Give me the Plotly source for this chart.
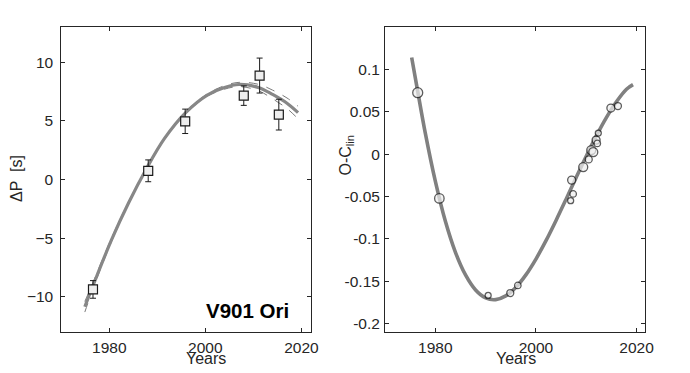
import plotly.graph_objects as go

# ---------------- Left panel: period change ----------------
dp_years = [1976.6, 1988.1, 1995.8, 2008.0, 2011.3, 2015.3]
dp_values = [-9.37, 0.74, 4.96, 7.15, 8.86, 5.53]
dp_errors = [0.75, 0.93, 1.04, 0.83, 1.49, 1.31]

dp_fit_years = [1974.9, 1976.6, 1980.5, 1984.0, 1987.7, 1991.5, 1995.9, 2000.4,
                2004.0, 2007.0, 2011.0, 2014.0, 2017.0, 2019.3]
dp_fit_values = [-10.85, -9.05, -5.1, -2.0, 0.9, 3.5, 5.7, 7.2,
                 7.85, 8.1, 7.85, 7.25, 6.5, 5.7]
dp_fit_upper = [-10.4, -8.78, -4.95, -1.9, 0.95, 3.55, 5.78, 7.3,
                8.0, 8.28, 8.12, 7.62, 6.95, 6.25]
dp_fit_lower = [-11.3, -9.32, -5.25, -2.1, 0.85, 3.45, 5.62, 7.1,
                7.7, 7.92, 7.58, 6.88, 6.05, 5.18]

# ---------------- Right panel: O-C residuals ----------------
oc_years = [1976.5, 1980.8, 1990.5, 1994.9, 1996.4, 2007.1, 2006.9, 2007.4,
            2009.4, 2010.5, 2011.0, 2011.4, 2011.96, 2012.2, 2012.4, 2014.9, 2016.3]
oc_values = [0.0725, -0.0523, -0.1668, -0.164, -0.155, -0.0307, -0.055, -0.047,
             -0.0153, -0.0063, 0.0047, 0.0024, 0.0165, 0.0126, 0.0248, 0.0543, 0.0567]
oc_sizes = [10, 9.5, 6, 7, 6.5, 8, 6, 6.5, 9, 7, 9, 9, 8, 6.5, 6, 8, 7]

oc_fit_years = [1975.3, 1976.5, 1978, 1980, 1982, 1984, 1986, 1988, 1990, 1992,
                1994, 1996, 1998, 2000, 2002, 2004, 2006, 2008, 2010, 2012,
                2014, 2016, 2018, 2019.3]
oc_fit_values = [0.114, 0.074, 0.025, -0.032, -0.0794, -0.116, -0.1427, -0.1604,
                 -0.1698, -0.1718, -0.1674, -0.1574, -0.1426, -0.1239, -0.1022,
                 -0.0783, -0.0532, -0.0276, -0.0025, 0.0214, 0.0431, 0.0618,
                 0.0766, 0.082]

x_ticks = [1980, 2000, 2020]
dp_ticks = [-10, -5, 0, 5, 10]
oc_ticks = [-0.2, -0.15, -0.1, -0.05, 0, 0.05, 0.1]
oc_tick_text = ["-0.2", "-0.15", "-0.1", "-0.05", "0", "0.05", "0.1"]

INK = "#262626"
FONT = "Liberation Sans, Arial, sans-serif"
OFF = 8  # page body margin compensation (px)
W = 690.0

fig = go.Figure()

for vals in (dp_fit_upper, dp_fit_lower):
    fig.add_trace(go.Scatter(x=dp_fit_years, y=vals, mode="lines",
                             line=dict(color="#7a7a7a", width=1, dash="dash", shape="spline"),
                             xaxis="x", yaxis="y", showlegend=False, hoverinfo="skip"))
fig.add_trace(go.Scatter(x=dp_fit_years, y=dp_fit_values, mode="lines",
                         line=dict(color="#878787", width=3.2, shape="spline"),
                         xaxis="x", yaxis="y", showlegend=False))
fig.add_trace(go.Scatter(x=dp_years, y=dp_values, mode="markers",
                         marker=dict(symbol="square", size=9, color="#eeeeee",
                                     line=dict(color="#1a1a1a", width=1.2)),
                         error_y=dict(type="data", array=dp_errors, visible=True,
                                      color="#1a1a1a", thickness=1, width=3),
                         xaxis="x", yaxis="y", showlegend=False))

fig.add_trace(go.Scatter(x=oc_fit_years, y=oc_fit_values, mode="lines",
                         line=dict(color="#808080", width=3.6, shape="spline"),
                         xaxis="x2", yaxis="y2", showlegend=False))
fig.add_trace(go.Scatter(x=oc_years, y=oc_values, mode="markers",
                         marker=dict(symbol="circle", size=oc_sizes, color="#eeeeee",
                                     line=dict(color="#1a1a1a", width=1.3)),
                         xaxis="x2", yaxis="y2", showlegend=False))

axis_common = dict(showline=True, linecolor=INK, linewidth=1, mirror="allticks",
                   ticks="inside", ticklen=4, tickcolor=INK, showgrid=False,
                   zeroline=False, tickfont=dict(family=FONT, size=15.5, color=INK))

fig.update_layout(
    width=690, height=373,
    margin=dict(l=0, r=0, t=27 - OFF, b=41 + OFF),
    paper_bgcolor="white", plot_bgcolor="white",
    font=dict(family=FONT, color=INK),
    xaxis=dict(domain=[(62 - OFF) / W, (315 - OFF) / W], range=[1970, 2022], tickvals=x_ticks,
               anchor="y", ticklabelstandoff=1, **axis_common),
    yaxis=dict(domain=[0, 1], range=[-13, 13], tickvals=dp_ticks, anchor="x",
               ticklabelstandoff=4, **axis_common),
    xaxis2=dict(domain=[(390 - OFF) / W, (653 - OFF) / W], range=[1970, 2021.6], tickvals=x_ticks,
                anchor="y2", ticklabelstandoff=1, **axis_common),
    yaxis2=dict(domain=[0, 1], range=[-0.21, 0.15], tickvals=oc_ticks,
                ticktext=oc_tick_text, anchor="x2", ticklabelstandoff=1, **axis_common),
    annotations=[
        dict(text="Years", xref="paper", yref="paper", x=(209 - OFF) / W, y=-26 / 305,
             xanchor="center", yanchor="middle", showarrow=False,
             font=dict(family=FONT, size=16, color=INK)),
        dict(text="Years", xref="paper", yref="paper", x=(522.5 - OFF) / W, y=-26 / 305,
             xanchor="center", yanchor="middle", showarrow=False,
             font=dict(family=FONT, size=16, color=INK)),
        dict(text="\u0394P  [s]", xref="paper", yref="paper", x=(17 - OFF) / W, y=154 / 305,
             xanchor="center", yanchor="middle", textangle=-90, showarrow=False,
             font=dict(family=FONT, size=16, color=INK)),
        dict(text="O-C<sub>lin</sub>", xref="paper", yref="paper", x=(350 - OFF) / W, y=177 / 305,
             xanchor="center", yanchor="middle", textangle=-90, showarrow=False,
             font=dict(family=FONT, size=16, color=INK)),
        dict(text="<b>V901 Ori</b>", xref="paper", yref="paper", x=(295 - OFF) / W,
             y=(332 - 310.5) / 305, xanchor="right", yanchor="middle", showarrow=False,
             font=dict(family=FONT, size=20.5, color="black")),
    ],
)

fig.write_html("out.html")
